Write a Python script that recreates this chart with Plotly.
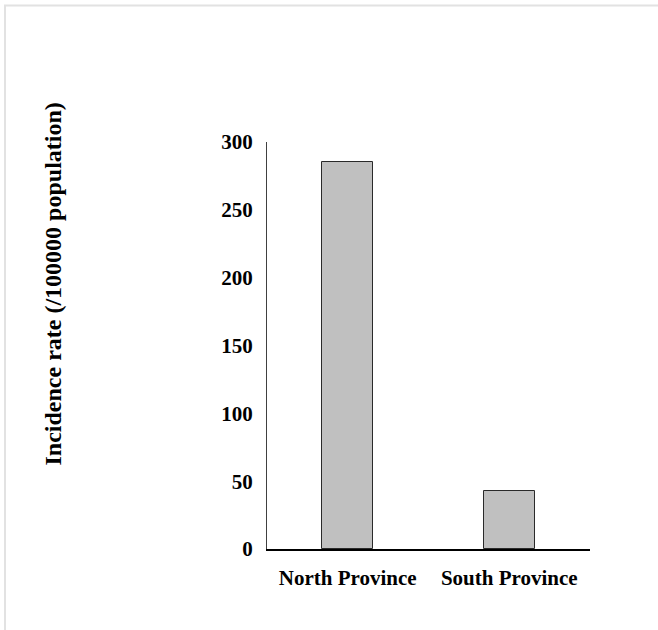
import plotly.graph_objects as go

categories = ["North Province", "South Province"]
incidence = [285, 43]
y_ticks = [0, 50, 100, 150, 200, 250, 300]
y_title = "Incidence rate (/100000 population)"

L, R, T, B = 267, 68, 142, 81
W, H = 658, 630
pw = W - L - R
ph = H - T - B

fig = go.Figure(go.Bar(
    x=categories, y=incidence, width=0.313,
    marker=dict(color="#c0c0c0", line=dict(color="#2a2a2a", width=1)),
))

font_fam = "Liberation Serif, Times New Roman, serif"

fig.update_layout(
    width=W, height=H,
    margin=dict(l=L, r=R, t=T, b=B, pad=0),
    plot_bgcolor="white", paper_bgcolor="white",
    showlegend=False,
    font=dict(family=font_fam, color="black"),
    bargap=0,
)
fig.update_xaxes(
    range=[-0.5, 1.5], showline=True, linecolor="black", linewidth=2,
    showgrid=False, zeroline=False, ticks="outside", ticklen=9,
    tickcolor="rgba(0,0,0,0)",
    tickfont=dict(family=font_fam, size=21, weight="bold", color="black"),
)
fig.update_yaxes(
    range=[0, 300], tickvals=y_ticks, showline=True, linecolor="#404040", linewidth=1,
    showgrid=False, zeroline=False, ticks="outside", ticklen=9,
    tickcolor="rgba(0,0,0,0)",
    tickfont=dict(family=font_fam, size=21, weight="bold", color="black"),
)

fig.add_annotation(
    text=y_title, textangle=-90, xref="paper", yref="paper",
    x=(52 - L) / pw, y=(H - B - 284.5) / ph, xanchor="center", yanchor="middle",
    showarrow=False,
    font=dict(family=font_fam, size=24, weight="bold", color="black"),
)

fig.add_shape(
    type="rect", xref="paper", yref="paper",
    x0=(5 - L) / pw, x1=(W + 40 - L) / pw,
    y0=(H - B - (H + 40)) / ph, y1=(H - B - 5.5) / ph,
    line=dict(color="#e2e2e2", width=2), fillcolor="rgba(0,0,0,0)", layer="below",
)

fig.write_html(
    "out.html",
    config={"displayModeBar": False},
    post_script="document.body.style.margin='0px';document.body.style.overflow='hidden';",
)
